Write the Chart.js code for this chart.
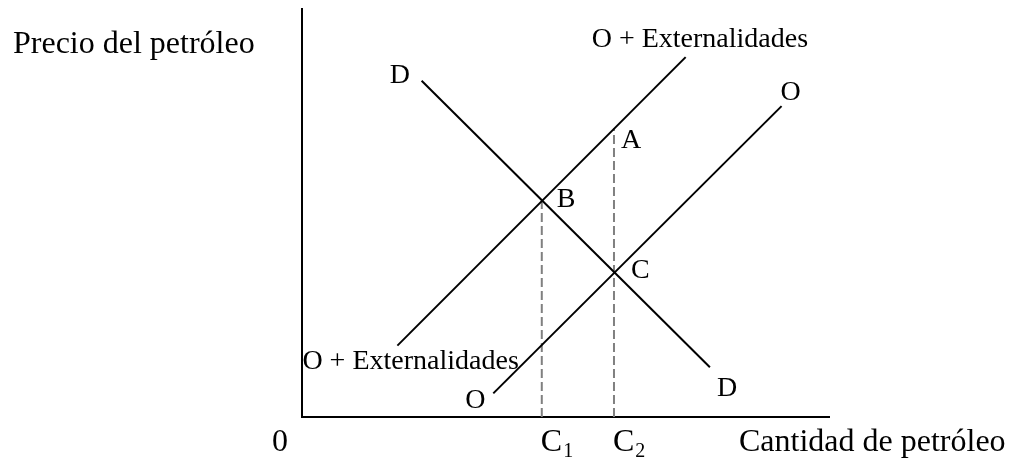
<!DOCTYPE html>
<html>
<head>
<meta charset="utf-8">
<script src="https://cdn.jsdelivr.net/npm/chart.js@4/dist/chart.umd.min.js"></script>
<style>
  html, body { margin: 0; padding: 0; background: #fff; }
  #wrap { width: 1015px; height: 462px; }
</style>
</head>
<body>
<div id="wrap"><canvas id="oilChart"></canvas></div>
<script>
// curvas (extremos, escala 0-100 en ambos ejes)
const demandX = [22.7, 77.4];
const demandY = [82.4, 12.2];
const supplyX = [36.3, 91.0];
const supplyY = [5.8, 76.2];
const supplyExtX = [18.1, 72.8];
const supplyExtY = [17.5, 88.2];

// cantidades C1, C2 y puntos de equilibrio
const qtyNames = ["C1", "C2"];
const qtyValues = [45.5, 59.2];
const pointNames = ["A", "B", "C"];
const pointX = [59.2, 45.5, 59.2];
const pointY = [70.8, 53.0, 35.4];

const curveNames = ["D", "O", "O + Externalidades"];
const xTitle = "Cantidad de petróleo";
const yTitle = "Precio del petróleo";
const originLabel = "0";

const FONT = "'Liberation Serif', 'Times New Roman', serif";

function pts(xs, ys) {
  return xs.map((x, i) => ({ x: x, y: ys[i] }));
}

const solid = { borderColor: "#000", borderWidth: 2, pointRadius: 0, tension: 0, fill: false };
const dashed = { borderColor: "#808080", borderWidth: 2, borderDash: [9, 4], pointRadius: 0, fill: false };

const datasets = [
  Object.assign({ label: "D", data: pts(demandX, demandY) }, solid),
  Object.assign({ label: "O", data: pts(supplyX, supplyY) }, solid),
  Object.assign({ label: "O + Ext", data: pts(supplyExtX, supplyExtY) }, solid),
  // guías punteadas desde B y A hasta el eje
  Object.assign({ label: "C1", data: [{ x: qtyValues[0], y: 0 }, { x: pointX[1], y: pointY[1] }] }, dashed),
  Object.assign({ label: "C2", data: [{ x: qtyValues[1], y: 0 }, { x: pointX[0], y: pointY[0] }] }, dashed),
];

// textos dibujados sobre el canvas
const labelsPlugin = {
  id: "labels",
  afterDatasetsDraw(chart) {
    const ctx = chart.ctx;
    const sx = chart.scales.x, sy = chart.scales.y;
    const px = v => sx.getPixelForValue(v);
    const py = v => sy.getPixelForValue(v);
    ctx.save();
    ctx.fillStyle = "#000";
    ctx.textAlign = "left";
    ctx.textBaseline = "alphabetic";

    const big = "32px " + FONT;
    const mid = "28px " + FONT;

    ctx.font = mid;
    // D
    ctx.fillText(curveNames[0], px(demandX[0]) - 32, py(demandY[0]) + 2);
    ctx.fillText(curveNames[0], px(demandX[1]) + 7, py(demandY[1]) + 29);
    // O
    ctx.fillText(curveNames[1], px(supplyX[1]) - 1, py(supplyY[1]) - 6);
    ctx.fillText(curveNames[1], px(supplyX[0]) - 28, py(supplyY[0]) + 15);
    // O + Externalidades
    ctx.fillText(curveNames[2], px(supplyExtX[1]) - 94, py(supplyExtY[1]) - 10);
    ctx.fillText(curveNames[2], px(supplyExtX[0]) - 95, py(supplyExtY[0]) + 23);
    // A, B, C
    ctx.fillText(pointNames[0], px(pointX[0]) + 7, py(pointY[0]) + 20);
    ctx.fillText(pointNames[1], px(pointX[1]) + 15, py(pointY[1]) + 6);
    ctx.fillText(pointNames[2], px(pointX[2]) + 17, py(pointY[2]) + 5);

    // eje x
    const base = sy.bottom + 34;
    ctx.font = big;
    ctx.fillText(originLabel, px(0) - 30, base);
    qtyNames.forEach((n, i) => {
      const x0 = px(qtyValues[i]) - 1;
      ctx.font = big;
      ctx.fillText(n[0], x0, base);
      const w = ctx.measureText(n[0]).width;
      ctx.font = "20px " + FONT;
      ctx.fillText(n.slice(1), x0 + w + 1, base + 6);
    });
    ctx.font = big;
    ctx.fillText(xTitle, sx.right - 90, base);
    ctx.fillText(yTitle, 13, 53);
    ctx.restore();
  }
};

new Chart(document.getElementById("oilChart"), {
  type: "line",
  data: { datasets: datasets },
  options: {
    responsive: true,
    maintainAspectRatio: false,
    animation: false,
    events: [],
    layout: { padding: { left: 302, right: 186, top: 9, bottom: 45 } },
    plugins: {
      legend: { display: false },
      tooltip: { enabled: false },
    },
    scales: {
      x: {
        type: "linear",
        min: 0,
        max: 100,
        ticks: { display: false },
        grid: { display: false },
        border: { display: true, color: "#000", width: 2 },
        afterFit(scale) { scale.height = 0; },
      },
      y: {
        type: "linear",
        min: 0,
        max: 100,
        ticks: { display: false },
        grid: { display: false },
        border: { display: true, color: "#000", width: 2 },
        afterFit(scale) { scale.width = 0; },
      },
    },
  },
  plugins: [labelsPlugin],
});
</script>
</body>
</html>
